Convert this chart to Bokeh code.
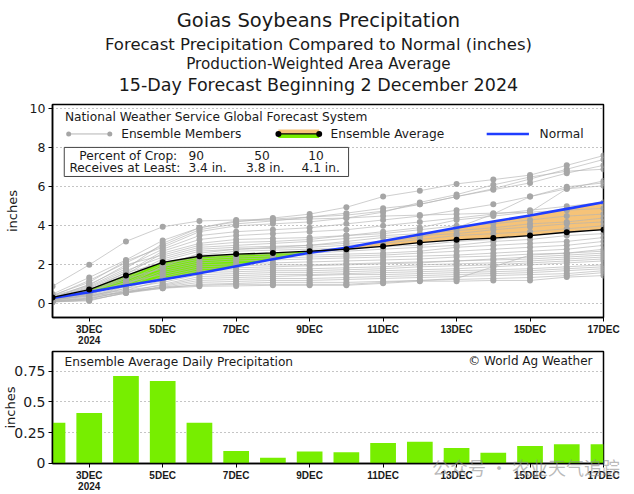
import math
from bokeh.plotting import figure
from bokeh.layouts import column
from bokeh.models import Label, FixedTicker, Range1d
from bokeh.embed import file_html
from bokeh.resources import INLINE

# ---------------- data ----------------
days = list(range(16))  # 0 = 2 Dec 2024 ... 15 = 17 Dec 2024
tick_days = [1, 3, 5, 7, 9, 11, 13, 15]
tick_labels = ["3DEC\n2024", "5DEC", "7DEC", "9DEC", "11DEC", "13DEC", "15DEC", "17DEC"]

daily_avg = [0.33, 0.41, 0.71, 0.67, 0.33, 0.10, 0.045, 0.095, 0.09, 0.165,
             0.175, 0.125, 0.085, 0.14, 0.155, 0.155]
cum_avg = [0.33, 0.73, 1.45, 2.13, 2.44, 2.55, 2.61, 2.70, 2.80, 2.95,
           3.14, 3.28, 3.37, 3.50, 3.67, 3.80]
normal = [0.30, 0.60, 0.94, 1.25, 1.57, 1.93, 2.29, 2.62, 2.88, 3.22,
          3.56, 3.90, 4.22, 4.53, 4.87, 5.21]

members = [
    [0.90, 2.00, 3.20, 3.95, 4.25, 4.30, 4.35, 4.45, 4.55, 4.75, 5.10, 5.50, 5.90, 6.40, 6.90, 7.40],
    [0.50, 1.35, 2.25, 3.25, 3.90, 4.20, 4.40, 4.60, 4.95, 5.50, 5.80, 6.15, 6.37, 6.60, 7.10, 7.60],
    [0.40, 1.20, 2.10, 3.00, 3.80, 4.10, 4.25, 4.45, 4.65, 4.90, 5.10, 5.50, 5.85, 6.20, 6.70, 7.10],
    [0.45, 1.10, 2.20, 2.90, 3.70, 4.00, 4.10, 4.20, 4.40, 4.70, 5.20, 5.60, 6.10, 6.50, 6.80, 6.90],
    [0.30, 1.00, 1.90, 2.80, 3.50, 3.70, 3.80, 3.90, 4.10, 4.30, 4.50, 4.80, 5.10, 5.50, 5.90, 6.30],
    [0.35, 0.90, 1.80, 3.10, 3.90, 4.25, 4.30, 4.35, 4.40, 4.50, 4.55, 4.60, 4.65, 4.70, 5.90, 6.05],
    [0.30, 0.80, 1.60, 2.70, 3.30, 3.50, 3.60, 3.70, 3.80, 4.00, 4.20, 4.40, 4.60, 4.80, 5.00, 5.20],
    [0.25, 0.70, 1.50, 2.60, 3.10, 3.30, 3.35, 3.40, 3.50, 3.70, 3.90, 4.30, 4.50, 4.70, 4.80, 4.90],
    [0.40, 0.95, 2.00, 2.50, 3.00, 3.15, 3.20, 3.30, 3.50, 3.60, 3.80, 4.00, 4.10, 4.30, 4.50, 4.60],
    [0.30, 0.85, 1.70, 2.40, 2.90, 3.00, 3.10, 3.20, 3.35, 3.50, 3.60, 3.75, 3.90, 4.10, 4.20, 4.40],
    [0.20, 0.60, 1.40, 2.30, 2.80, 2.90, 2.95, 3.00, 3.20, 3.40, 3.50, 3.60, 3.80, 3.95, 4.10, 4.20],
    [0.35, 0.75, 1.30, 2.20, 2.70, 2.80, 2.85, 2.90, 3.00, 3.10, 3.30, 3.50, 3.60, 3.70, 3.85, 4.00],
    [0.30, 0.70, 1.60, 2.10, 2.50, 2.70, 2.75, 2.80, 2.85, 2.95, 3.00, 3.20, 3.30, 3.50, 3.70, 3.80],
    [0.25, 0.65, 1.20, 2.00, 2.40, 2.50, 2.55, 2.60, 2.70, 2.80, 2.90, 3.00, 3.20, 3.30, 3.50, 3.60],
    [0.20, 0.55, 1.10, 1.90, 2.30, 2.40, 2.45, 2.50, 2.55, 2.60, 2.70, 2.90, 3.00, 3.10, 3.20, 3.40],
    [0.30, 0.60, 1.30, 1.80, 2.20, 2.30, 2.35, 2.40, 2.45, 2.50, 2.60, 2.70, 2.80, 2.90, 3.00, 3.20],
    [0.15, 0.50, 1.00, 1.70, 2.10, 2.20, 2.25, 2.30, 2.35, 2.40, 2.45, 2.50, 2.60, 2.70, 2.80, 3.00],
    [0.20, 0.45, 0.90, 1.60, 2.00, 2.05, 2.10, 2.15, 2.20, 2.25, 2.30, 2.40, 2.45, 2.55, 2.60, 2.80],
    [0.25, 0.50, 1.10, 1.50, 1.90, 1.95, 2.00, 2.00, 2.05, 2.10, 2.15, 2.20, 2.30, 2.40, 2.50, 2.60],
    [0.20, 0.40, 0.80, 1.40, 1.80, 1.85, 1.90, 1.95, 2.00, 2.05, 2.10, 2.20, 2.25, 2.30, 2.40, 2.50],
    [0.15, 0.35, 0.90, 1.30, 1.70, 1.75, 1.80, 1.80, 1.85, 1.90, 2.00, 2.05, 2.10, 2.20, 2.30, 2.40],
    [0.20, 0.45, 0.70, 1.20, 1.60, 1.65, 1.70, 1.70, 1.75, 1.80, 1.90, 1.95, 2.00, 2.10, 2.20, 2.30],
    [0.10, 0.30, 0.80, 1.10, 1.50, 1.55, 1.60, 1.60, 1.65, 1.70, 1.75, 1.80, 1.90, 2.00, 2.10, 2.20],
    [0.20, 0.40, 0.60, 1.00, 1.40, 1.45, 1.50, 1.50, 1.55, 1.60, 1.65, 1.70, 1.75, 1.80, 1.90, 2.00],
    [0.15, 0.25, 0.70, 0.95, 1.30, 1.35, 1.40, 1.45, 1.50, 1.50, 1.55, 1.60, 1.65, 1.70, 1.80, 1.90],
    [0.10, 0.20, 0.55, 0.90, 1.20, 1.25, 1.30, 1.30, 1.35, 1.40, 1.45, 1.50, 1.55, 1.60, 1.70, 1.80],
    [0.15, 0.30, 0.60, 0.85, 1.10, 1.15, 1.20, 1.20, 1.25, 1.30, 1.35, 1.40, 1.45, 1.50, 1.55, 1.70],
    [0.10, 0.15, 0.60, 0.80, 1.00, 1.05, 1.10, 1.10, 1.10, 1.15, 1.20, 1.25, 1.30, 1.35, 1.45, 1.60],
    [0.10, 0.20, 0.55, 0.80, 0.90, 0.92, 0.95, 0.95, 0.95, 1.05, 1.16, 1.16, 1.20, 1.20, 1.37, 1.45],
    [0.12, 0.25, 0.65, 0.85, 0.95, 1.00, 1.00, 1.00, 1.00, 1.10, 1.20, 1.30, 1.90, 2.50, 2.60, 2.70],
    [0.30, 0.50, 1.00, 1.90, 2.60, 2.80, 2.90, 3.00, 3.10, 3.20, 3.40, 3.90, 4.60, 5.50, 6.00, 6.20],
]

crop_pct = ["90", "50", "10"]
crop_amt = ["3.4 in.", "3.8 in.", "4.1 in."]

title_lines = ["Goias Soybeans Precipitation",
               "Forecast Precipitation Compared to Normal (inches)",
               "Production-Weighted Area Average",
               "15-Day Forecast Beginning 2 December 2024"]
watermark = "公众号 · 农业天气追踪"

# ---------------- styles ----------------
GREEN = "#77ee00"
ORANGE = "#f6c378"
BLUE = "#1f3dff"
MLINE = "#b4b4b4"
MDOT = "#a6a6a6"
TXT = "#1a1a1a"
FONT = "DejaVu Sans"
TICKFONT = "Liberation Sans"
W = 634


def lab(p, x, y, text, size, align="left", font=FONT, color=TXT):
    p.add_layout(Label(x=x, y=y, text=text, text_font=font,
                       text_font_size=f"{size}px", text_align=align,
                       text_baseline="middle", text_color=color))


def style_axes(p, yticks):
    p.outline_line_color = "black"
    p.outline_line_width = 1.5
    p.xgrid.visible = False
    p.ygrid.grid_line_color = "#8a8a8a"
    p.ygrid.grid_line_dash = "1 3"
    p.ygrid.grid_line_width = 1
    p.xaxis.ticker = FixedTicker(ticks=tick_days, minor_ticks=[])
    p.xaxis.major_label_overrides = dict(zip(tick_days, tick_labels))
    p.yaxis.ticker = FixedTicker(ticks=yticks, minor_ticks=[])
    for ax in (p.xaxis, p.yaxis):
        ax.axis_line_color = "black"
        ax.axis_line_width = 1.5
        ax.major_tick_in = 0
        ax.major_tick_out = 4
        ax.major_tick_line_color = "black"
        ax.minor_tick_in = 0
        ax.minor_tick_out = 0
        ax.major_label_text_color = TXT
    p.xaxis.major_label_standoff = 2
    p.xaxis.major_label_text_font = TICKFONT
    p.xaxis.major_label_text_font_style = "bold"
    p.xaxis.major_label_text_font_size = "10px"
    p.xaxis.major_label_text_line_height = 1.05
    p.yaxis.major_label_standoff = 3
    p.yaxis.major_label_text_font = FONT
    p.yaxis.axis_label = "inches"
    p.yaxis.axis_label_text_font = FONT
    p.yaxis.axis_label_text_font_style = "normal"
    p.yaxis.axis_label_text_font_size = "13px"
    p.yaxis.axis_label_text_color = TXT


# ---------------- title strip ----------------
head = figure(title=None, width=W, height=102, x_range=Range1d(0, W),
              y_range=Range1d(102, 0), min_border=0,
              x_axis_type=None, y_axis_type=None,
              output_backend="svg", toolbar_location=None)
head.outline_line_color = None
head.grid.visible = False
lab(head, 306, 20, title_lines[0], 19.5, align="center")
lab(head, 306, 44, title_lines[1], 16.5, align="center")
lab(head, 306, 63.5, title_lines[2], 15.2, align="center")
lab(head, 306, 84, title_lines[3], 17.5, align="center")

# ---------------- top panel ----------------
top = figure(title=None, frame_width=551, frame_height=213,
             min_border_left=52, min_border_right=31, min_border_top=2,
             min_border_bottom=27,
             x_range=Range1d(0, 15), y_range=Range1d(-0.70, 10.22),
             output_backend="svg", toolbar_location=None)
style_axes(top, [0, 2, 4, 6, 8, 10])
top.yaxis.major_label_text_font_size = "12.5px"
top.yaxis.axis_label_standoff = 7

# fill between ensemble average and normal, with crossing points inserted
fx, fa, fn = [], [], []
for i in range(len(days)):
    fx.append(days[i]); fa.append(cum_avg[i]); fn.append(normal[i])
    if i < len(days) - 1:
        d0 = cum_avg[i] - normal[i]
        d1 = cum_avg[i + 1] - normal[i + 1]
        if d0 * d1 < 0:
            t = d0 / (d0 - d1)
            yc = normal[i] + t * (normal[i + 1] - normal[i])
            fx.append(days[i] + t); fa.append(yc); fn.append(yc)
top.varea(x=fx, y1=fn, y2=[max(a, n) for a, n in zip(fa, fn)], fill_color=GREEN)
top.varea(x=fx, y1=[min(a, n) for a, n in zip(fa, fn)], y2=fn, fill_color=ORANGE)

top.multi_line(xs=[days] * len(members), ys=members, line_color=MLINE,
               line_width=1, line_alpha=0.65)
top.scatter(x=days * len(members), y=[v for m in members for v in m],
            size=6, fill_color=MDOT, line_color=None)
top.line(days, normal, line_color=BLUE, line_width=2.6)
top.line(days, cum_avg, line_color="black", line_width=1.3)
top.scatter(days, cum_avg, size=6, fill_color="black", line_color=None)

# legend area (inside the frame)
LS = 12.2
lab(top, 0.34, 9.60, "National Weather Service Global Forecast System", LS)
top.line([0.44, 1.56], [8.71, 8.71], line_color=MLINE, line_width=1)
top.scatter([0.44, 1.56], [8.71, 8.71], size=5, fill_color=MDOT, line_color=None)
lab(top, 1.87, 8.71, "Ensemble Members", LS)
top.quad(left=6.15, right=7.26, bottom=8.71, top=8.94, fill_color=ORANGE, line_color=None)
top.quad(left=6.15, right=7.26, bottom=8.50, top=8.71, fill_color=GREEN, line_color=None)
top.line([6.15, 7.26], [8.71, 8.71], line_color="black", line_width=1.3)
top.scatter([6.15, 7.26], [8.71, 8.71], size=6, fill_color="black", line_color=None)
lab(top, 7.57, 8.71, "Ensemble Average", LS)
top.line([11.82, 12.97], [8.71, 8.71], line_color=BLUE, line_width=2.6)
lab(top, 13.26, 8.71, "Normal", LS)

top.quad(left=0.32, right=8.06, bottom=6.53, top=8.02, fill_color="white",
         line_color="#444444", line_width=1)
lab(top, 0.73, 7.58, "Percent of Crop:", LS)
lab(top, 0.46, 6.96, "Receives at Least:", LS)
for xp, t in zip([3.70, 5.49, 6.96], crop_pct):
    lab(top, xp, 7.58, t, LS)
for xp, t in zip([3.70, 5.27, 6.78], crop_amt):
    lab(top, xp, 6.96, t, LS)

# ---------------- bottom panel ----------------
bot = figure(title=None, frame_width=551, frame_height=112,
             min_border_left=52, min_border_right=31, min_border_top=2,
             min_border_bottom=36,
             x_range=Range1d(0, 15), y_range=Range1d(-0.002, 0.91),
             output_backend="svg", toolbar_location=None)
style_axes(bot, [0, 0.25, 0.5, 0.75])
bot.yaxis.major_label_overrides = {0: "0", 0.25: "0.25", 0.5: "0.5", 0.75: "0.75"}
bot.yaxis.major_label_text_font_size = "14px"
bot.yaxis.axis_label_standoff = -7
bot.vbar(x=days, top=daily_avg, bottom=0, width=0.7, fill_color=GREEN, line_color=None)

lab(bot, 0.33, 0.823, "Ensemble Average Daily Precipitation", 12.2)
lab(bot, 14.70, 0.831, "\u00a9 World Ag Weather", 12, align="right")

# watermark carried by the x axis label, pulled up into the tick-label band
xa = bot.xaxis[0]
xa.axis_label_text_font = "Noto Sans CJK SC"
xa.axis_label_text_font_style = "normal"
xa.axis_label_text_font_size = "18px"
xa.axis_label_text_color = "#8c8c8c"
xa.axis_label_text_alpha = 0.6
xa.axis_label_standoff = -41
xa.axis_label = "\u3000" * 22 + watermark

layout = column(head, top, bot, spacing=0)
open("out.html", "w").write(file_html(layout, INLINE))
